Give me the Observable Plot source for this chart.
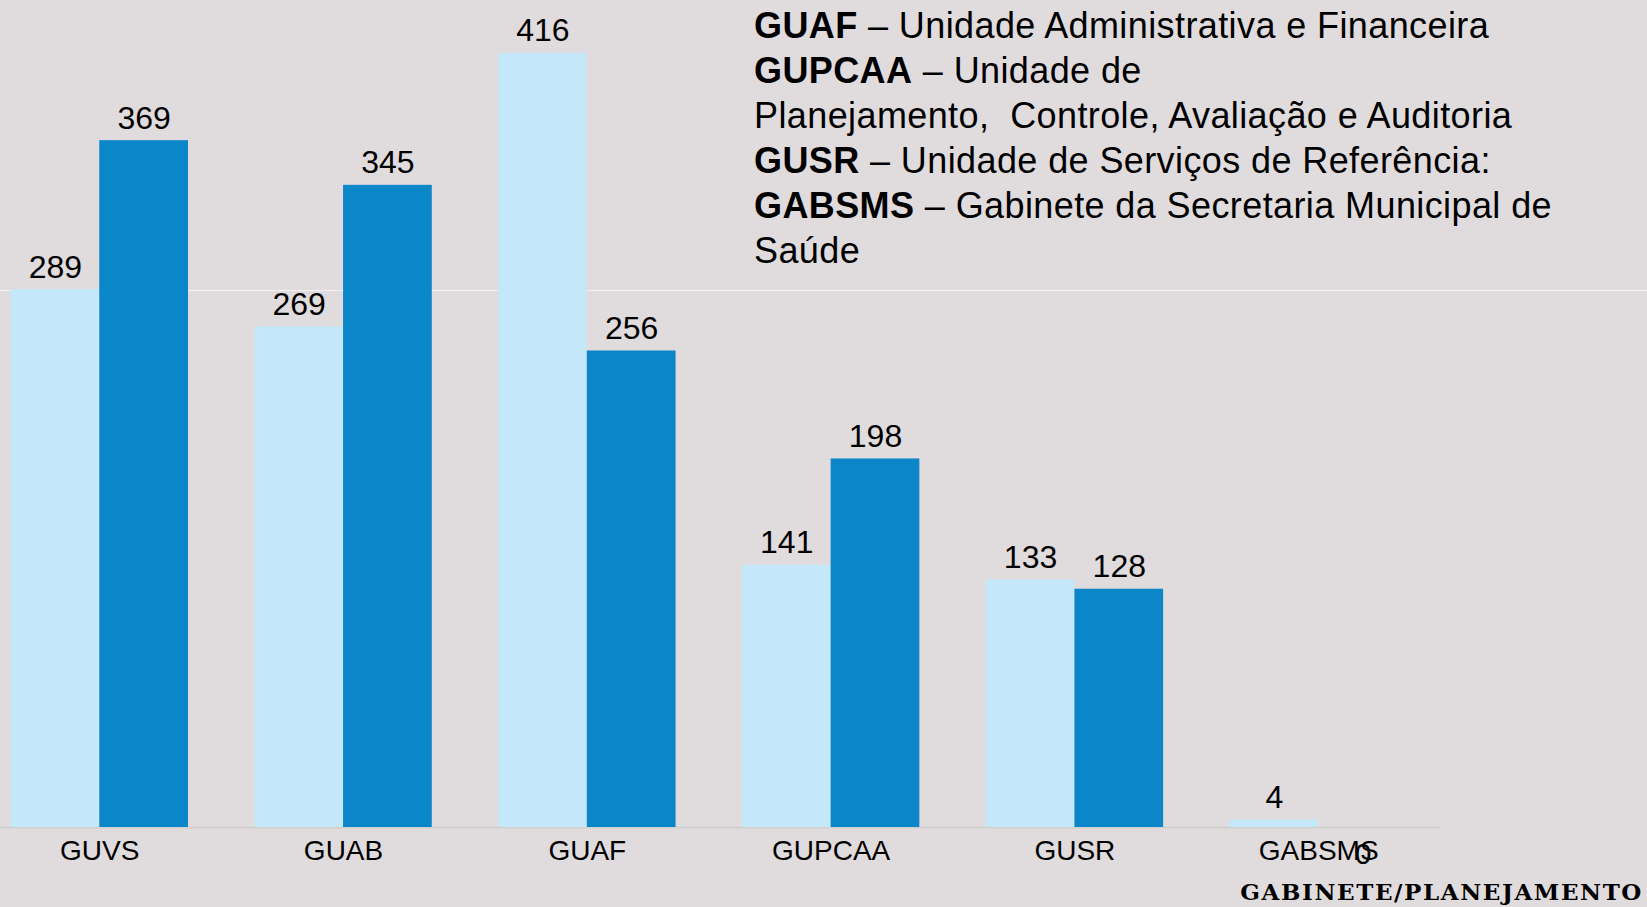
<!DOCTYPE html>
<html>
<head>
<meta charset="utf-8">
<script src="https://cdn.jsdelivr.net/npm/d3@7"></script>
<script src="https://cdn.jsdelivr.net/npm/@observablehq/plot@0.6"></script>
<style>
  html, body { margin: 0; padding: 0; background: #e0dcdd; }
  #wrap { position: relative; width: 1647px; height: 907px; overflow: hidden; background: #e0dcdd; }
  #sep { position: absolute; left: 0; top: 290px; width: 1647px; height: 1px; background: #f3f1f1; z-index: 0; }
  #chart { position: absolute; left: 0; top: 0; z-index: 1; }
  #legend { position: absolute; left: 754px; top: 3px; z-index: 2; font-family: "Liberation Sans", Arial, sans-serif;
            font-size: 36px; line-height: 45px; letter-spacing: 0.4px; color: #000; white-space: nowrap; }
  #legend b { font-weight: bold; }
  #footer { position: absolute; right: 4px; top: 877px; z-index: 2; font-family: "DejaVu Serif", "Liberation Serif", serif; font-weight: bold;
            font-size: 23px; line-height: 30px; letter-spacing: 1.6px; color: #000; white-space: nowrap; }
</style>
</head>
<body>
<div id="wrap">
  <div id="sep"></div>
  <div id="chart"></div>
  <div id="legend">
    <div><b>GUAF</b> – Unidade Administrativa e Financeira</div>
    <div><b>GUPCAA</b> – Unidade de</div>
    <div>Planejamento,&nbsp; Controle, Avaliação e Auditoria</div>
    <div><b>GUSR</b> – Unidade de Serviços de Referência:</div>
    <div><b>GABSMS</b> – Gabinete da Secretaria Municipal de</div>
    <div>Saúde</div>
  </div>
  <div id="footer">GABINETE/PLANEJAMENTO</div>
</div>
<script>
const categories = ["GUVS", "GUAB", "GUAF", "GUPCAA", "GUSR", "GABSMS"];
const series1 = [289, 269, 416, 141, 133, 4];
const series2 = [369, 345, 256, 198, 128, 0];

const lightColor = "#c4e7f9";
const darkColor = "#0b87c9";

const s1 = categories.map((c, i) => ({cat: c, value: series1[i]}));
const s2 = categories.map((c, i) => ({cat: c, value: series2[i]}));

const W = 1647;
const bandwidth = 177.5;
const half = bandwidth / 2;

const plot = Plot.plot({
  width: W,
  height: 907,
  marginLeft: 0,
  marginRight: 0,
  marginTop: 8,
  marginBottom: 80,
  style: {background: "transparent", fontFamily: "'Liberation Sans', Arial, sans-serif", fontSize: "28px", color: "#000"},
  x: {domain: categories, paddingInner: 0.272, paddingOuter: 0.514, align: 0.042, round: false,
      tickSize: 0, tickPadding: 13, label: null},
  y: {domain: [0, 440], axis: null},
  marks: [
    Plot.ruleY([0], {stroke: "#d2cfd0", strokeWidth: 2, insetRight: 207}),
    Plot.barY(s1, {x: "cat", y: "value", fill: lightColor, insetRight: half}),
    Plot.barY(s2, {x: "cat", y: "value", fill: darkColor, insetLeft: half}),
    Plot.text(s1, {x: "cat", y: "value", text: d => String(d.value), dx: -half / 2, dy: -12,
                   lineAnchor: "bottom", fontSize: 32, fill: "#000"}),
    Plot.text(s2.filter(d => d.value > 0), {x: "cat", y: "value", text: d => String(d.value), dx: half / 2, dy: -12,
                   lineAnchor: "bottom", fontSize: 32, fill: "#000"}),
    Plot.text(s2.filter(d => d.value === 0), {x: "cat", y: "value", text: d => String(d.value), dx: half / 2, dy: 36,
                   lineAnchor: "bottom", fontSize: 30, fill: "#000"})
  ]
});
document.getElementById("chart").appendChild(plot);
</script>
</body>
</html>
